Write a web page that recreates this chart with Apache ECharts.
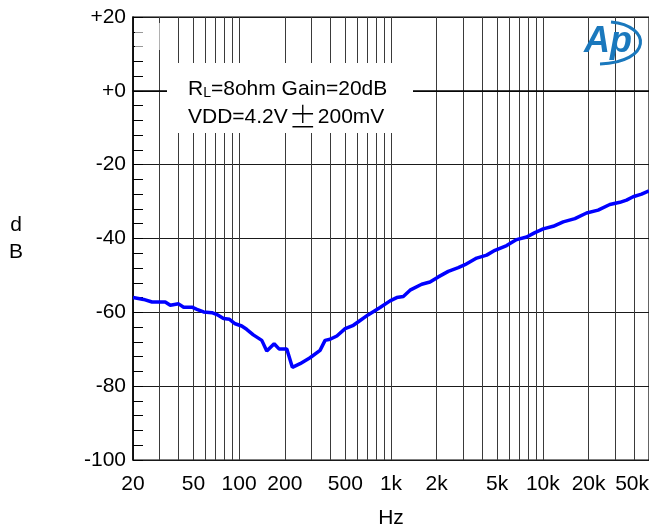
<!DOCTYPE html>
<html>
<head>
<meta charset="utf-8">
<script src="https://cdn.jsdelivr.net/npm/echarts@6/dist/echarts.min.js"></script>
<style>
  html, body { margin: 0; padding: 0; background: #fff; }
  #chart { width: 649px; height: 532px; }
</style>
</head>
<body>
<div id="chart"></div>
<script>
// Power-supply rejection vs. frequency
const freqHz = [20, 23.5, 26.7, 32.6, 35.2, 39.9, 43.1, 48.9, 52.7, 58.3, 66.2, 71.4, 78.9, 86.4, 94.2,
  104, 112, 124, 141, 152, 170, 183, 206, 224, 252, 293, 341, 368, 397, 440, 499, 565, 626, 706, 847, 986,
  1091, 1205, 1335, 1593, 1806, 2049, 2384, 2774, 3070, 3666, 4266, 4838, 5776, 6716, 7820, 8868,
  10050, 11696, 13616, 16256, 19410, 23120, 27600, 32140, 35560, 39300, 44660, 50000];
const psrrDb = [-56.0, -56.5, -57.2, -57.2, -58.1, -57.7, -58.6, -58.6, -59.2, -59.9, -60.1, -60.6, -61.7, -61.9, -63.1,
  -63.7, -64.6, -66.1, -67.6, -70.5, -68.5, -69.9, -69.9, -74.9, -73.9, -72.3, -70.3, -67.6, -67.3, -66.4, -64.4, -63.5, -62.2, -60.7, -58.7, -56.9,
  -56.0, -55.7, -54.0, -52.4, -51.8, -50.4, -48.9, -47.9, -47.1, -45.3, -44.5, -43.2, -41.9, -40.3, -39.6, -38.4,
  -37.4, -36.7, -35.5, -34.6, -33.1, -32.3, -30.8, -30.2, -29.6, -28.7, -28.0, -27.1];

// Labelled frequencies and the full 1-2-3...9 grid
const xLabelValues = [20, 50, 100, 200, 500, 1000, 2000, 5000, 10000, 20000, 50000];
const xGridValues = [20, 30, 40, 50, 60, 70, 80, 90,
  100, 200, 300, 400, 500, 600, 700, 800, 900,
  1000, 2000, 3000, 4000, 5000, 6000, 7000, 8000, 9000,
  10000, 20000, 30000, 40000, 50000];
const yMin = -100, yMax = 20, yStep = 20;

const noteLine1 = 'R{sub|L}=8ohm Gain=20dB';
const noteLine2 = 'VDD=4.2V{pm|±}200mV';

const font = 'Arial, "Liberation Sans", Helvetica, sans-serif';
const chart = echarts.init(document.getElementById('chart'), null, { renderer: 'canvas' });

const fmtHz = v => v >= 1000 ? (v / 1000) + 'k' : String(v);

chart.setOption({
  animation: false,
  backgroundColor: '#fff',
  grid: {
    left: 133, right: 0, top: 17, bottom: 72,
    outerBoundsMode: 'none', containLabel: false,
    show: true, borderColor: '#000', borderWidth: 1.2, backgroundColor: 'transparent'
  },
  xAxis: {
    type: 'log', logBase: 10, min: 20, max: 50000,
    name: 'Hz', nameLocation: 'middle', nameGap: 48,
    nameTextStyle: { fontFamily: font, fontSize: 21, color: '#000' },
    axisLine: { show: true, lineStyle: { color: '#000', width: 1.5 } },
    axisTick: { show: false, customValues: xGridValues },
    minorTick: { show: false },
    axisLabel: {
      customValues: xLabelValues, formatter: fmtHz, margin: 14,
      fontFamily: font, fontSize: 21, color: '#000', alignMaxLabel: 'right', hideOverlap: false
    },
    splitLine: { show: true, lineStyle: { color: '#3a3a3a', width: 1 } },
    minorSplitLine: { show: false }
  },
  yAxis: {
    type: 'value', min: yMin, max: yMax, interval: yStep,
    name: 'd\nB', nameLocation: 'middle', nameGap: 117, nameRotate: 0,
    nameTextStyle: { fontFamily: font, fontSize: 21, color: '#000', align: 'center', verticalAlign: 'middle', lineHeight: 27 },
    axisLine: { show: true, lineStyle: { color: '#000', width: 1.5 } },
    axisTick: { show: true, inside: true, length: 10, lineStyle: { color: '#000' } },
    minorTick: { show: true, splitNumber: 5, length: 10, lineStyle: { color: '#000', width: 1 } },
    axisLabel: {
      formatter: v => v >= 0 ? '+' + v : String(v), margin: 7,
      fontFamily: font, fontSize: 21, color: '#000'
    },
    splitLine: { show: true, lineStyle: { color: '#1a1a1a', width: 1 } }
  },
  graphic: [
    // faint white patch near the top-left corner
    { type: 'rect', z: 90, shape: { x: 135, y: 23, width: 33, height: 27 }, style: { fill: 'rgba(255,255,255,0.6)' } },
    // condition note box
    { type: 'rect', z: 90, shape: { x: 167, y: 63, width: 246, height: 70 }, style: { fill: '#fff' } },
    {
      type: 'text', z: 91, left: 188, top: 79,
      style: {
        text: noteLine1, font: '21px ' + font, fill: '#000',
        rich: { sub: { fontFamily: font, fontSize: 14, fill: '#000', verticalAlign: 'bottom', padding: [8, 0, 0, 0] } }
      }
    },
    {
      type: 'text', z: 91, left: 188, top: 103,
      style: {
        text: noteLine2, font: '21px ' + font, fill: '#000',
        rich: { pm: { fontFamily: '"Noto Sans CJK SC", sans-serif', fontSize: 28, fontWeight: 300, fill: '#000', padding: [0, 1, 0, 1] } }
      }
    },
    // Ap logo
    {
      type: 'bezierCurve', z: 92,
      shape: { x1: 611, y1: 22, cpx1: 652, cpy1: 26, cpx2: 652, cpy2: 62, x2: 600, y2: 64 },
      style: { stroke: '#1a78bd', lineWidth: 3, fill: null }
    },
    {
      type: 'text', z: 92, left: 584, top: 24,
      style: { text: 'Ap', font: 'italic bold 36px ' + font, fill: '#1a78bd' }
    }
  ],
  series: [{
    type: 'line',
    data: freqHz.map((f, i) => [f, psrrDb[i]]),
    showSymbol: false,
    symbol: 'none',
    lineStyle: { color: '#0000ff', width: 3.5 },
    z: 5,
    clip: true
  }]
});
</script>
</body>
</html>
